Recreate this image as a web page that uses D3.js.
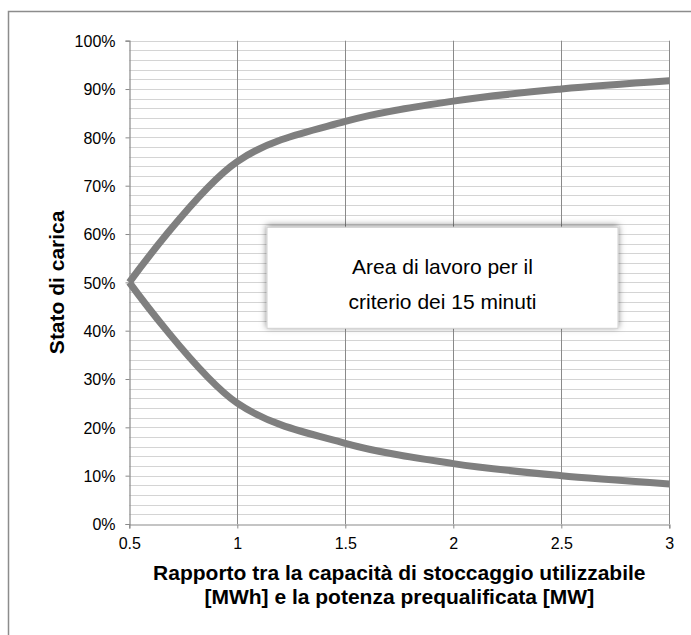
<!DOCTYPE html>
<html>
<head>
<meta charset="utf-8">
<script src="https://cdn.jsdelivr.net/npm/d3@7"></script>
<style>
  body { margin: 0; background: #fff; }
  text { font-family: "Liberation Sans", Arial, sans-serif; }
</style>
</head>
<body>
<div id="chart"></div>
<script>
// Chart size
const width = 691;
const height = 635;

// Data
const ratios = [0.5, 1, 1.5, 2, 2.5, 3];
const upperSoc = [0.50, 0.75, 0.833, 0.875, 0.90, 0.917];
const lowerSoc = [0.50, 0.25, 0.167, 0.125, 0.10, 0.083];
const xTicks = [0.5, 1, 1.5, 2, 2.5, 3];
const yTicks = [0, 0.1, 0.2, 0.3, 0.4, 0.5, 0.6, 0.7, 0.8, 0.9, 1];
const yMinorTicks = d3.range(0, 51).map(i => i / 50);
const boxLines = ["Area di lavoro per il", "criterio dei 15 minuti"];

const margin = { left: 129.3, right: 21.7, top: 40.7, bottom: 111 };

const svg = d3.select("#chart")
    .append("svg")
    .attr("width", width)
    .attr("height", height);

// Shadow for the text box
const defs = svg.append("defs");
const filter = defs.append("filter")
    .attr("id", "shadow")
    .attr("x", "-10%").attr("y", "-20%")
    .attr("width", "120%").attr("height", "140%");
filter.append("feDropShadow")
    .attr("dx", 0).attr("dy", -1.5)
    .attr("stdDeviation", 3)
    .attr("flood-color", "#000")
    .attr("flood-opacity", 0.5);

svg.append("rect")
    .attr("width", width).attr("height", height)
    .attr("fill", "#fff");

// Outer chart border (cut at right and bottom)
svg.append("rect")
    .attr("x", 8.5).attr("y", 11.5)
    .attr("width", width + 10).attr("height", height + 10)
    .attr("fill", "none")
    .attr("stroke", "#8c8c8c")
    .attr("stroke-width", 1.5);

const x = d3.scaleLinear()
    .domain([0.5, 3])
    .range([margin.left, width - margin.right]);

const y = d3.scaleLinear()
    .domain([0, 1])
    .range([height - margin.bottom, margin.top]);

// Minor horizontal grid
svg.append("g")
    .selectAll("line")
    .data(yMinorTicks.filter(d => d > 0))
    .enter()
    .append("line")
    .attr("x1", x(0.5)).attr("x2", x(3))
    .attr("y1", d => Math.round(y(d)) + 0.5)
    .attr("y2", d => Math.round(y(d)) + 0.5)
    .attr("stroke", "#d4d4d4")
    .attr("stroke-width", 1.2);

// Major vertical grid
svg.append("g")
    .selectAll("line")
    .data(xTicks.filter(d => d > 0.5))
    .enter()
    .append("line")
    .attr("x1", d => Math.round(x(d)) + 0.5)
    .attr("x2", d => Math.round(x(d)) + 0.5)
    .attr("y1", y(0)).attr("y2", y(1))
    .attr("stroke", "#8a8a8a")
    .attr("stroke-width", 1);

// Axes
const xAxis = svg.append("g")
    .attr("transform", `translate(0,${Math.round(y(0)) + 0.5})`)
    .call(d3.axisBottom(x).tickValues(xTicks).tickSize(4).tickPadding(9)
        .tickFormat(d => String(d)));
const yAxis = svg.append("g")
    .attr("transform", `translate(${Math.round(x(0.5)) + 0.5},0)`)
    .call(d3.axisLeft(y).tickValues(yTicks).tickSize(4).tickPadding(10)
        .tickFormat(d3.format(".0%")));

[xAxis, yAxis].forEach(g => {
    g.select(".domain").attr("stroke", "#8a8a8a").attr("stroke-width", 1.2);
    g.selectAll(".tick line").attr("stroke", "#8a8a8a");
    g.selectAll(".tick text")
        .attr("fill", "#000")
        .style("font-size", "16px")
        .style("font-family", "Liberation Sans, Arial, sans-serif");
});
yAxis.selectAll(".tick text").attr("dy", "0.36em");

// Curves
const line = d3.line()
    .x((d, i) => x(ratios[i]))
    .y(d => y(d))
    .curve(d3.curveCatmullRom.alpha(0.5));

[upperSoc, lowerSoc].forEach(series => {
    svg.append("path")
        .datum(series)
        .attr("fill", "none")
        .attr("stroke", "#7f7f7f")
        .attr("stroke-width", 7)
        .attr("stroke-linejoin", "round")
        .attr("d", line);
});

// Text box
const box = svg.append("g");
box.append("rect")
    .attr("x", 267).attr("y", 227.3)
    .attr("width", 351).attr("height", 101)
    .attr("fill", "#fff")
    .attr("stroke", "#d0d0d0")
    .attr("stroke-width", 1)
    .attr("filter", "url(#shadow)");
box.selectAll("text")
    .data(boxLines)
    .enter()
    .append("text")
    .attr("x", 442.5)
    .attr("y", (d, i) => 273.5 + i * 35.5)
    .attr("text-anchor", "middle")
    .attr("fill", "#000")
    .style("font-size", "21px")
    .text(d => d);

// Axis titles
svg.append("text")
    .attr("text-anchor", "middle")
    .attr("transform", `translate(63.5,${(y(0) + y(1)) / 2}) rotate(-90)`)
    .style("font-size", "21px")
    .style("font-weight", "bold")
    .text("Stato di carica");

const xTitle = svg.append("text")
    .attr("text-anchor", "middle")
    .style("font-size", "21px")
    .style("font-weight", "bold");
xTitle.append("tspan")
    .attr("x", (x(0.5) + x(3)) / 2).attr("y", 580)
    .text("Rapporto tra la capacità di stoccaggio utilizzabile");
xTitle.append("tspan")
    .attr("x", (x(0.5) + x(3)) / 2).attr("y", 604)
    .text("[MWh] e la potenza prequalificata [MW]");
</script>
</body>
</html>
